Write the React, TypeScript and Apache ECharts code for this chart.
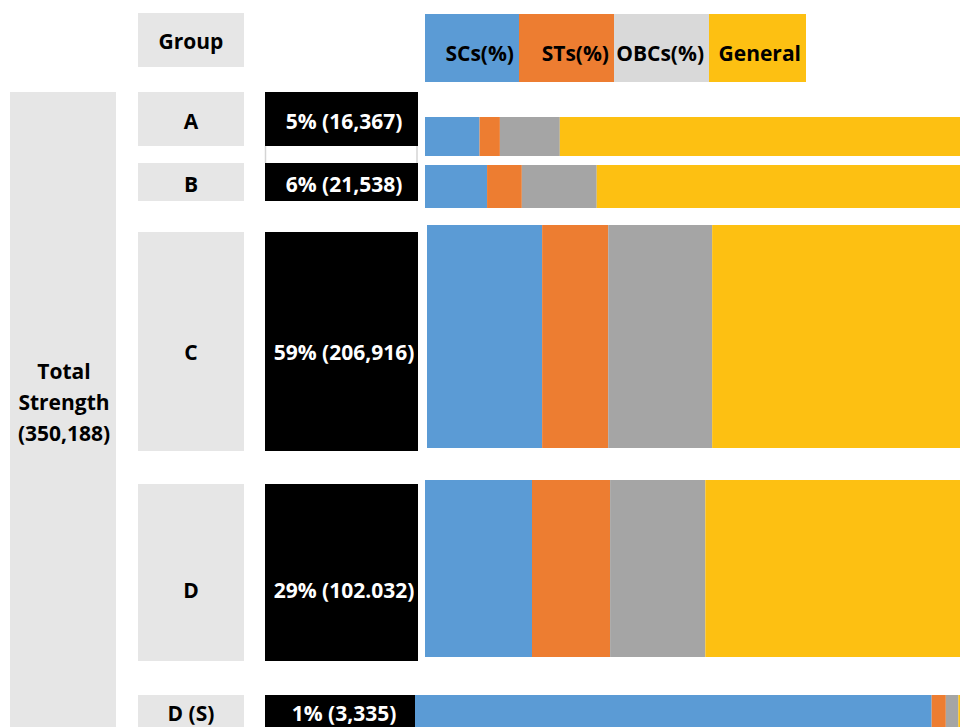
import React, { useEffect, useRef } from "react";
import * as echarts from "echarts";

const categories = ["A", "B", "C", "D", "D (S)"];
const shares = ["5%", "6%", "59%", "29%", "1%"];
const counts = ["16,367", "21,538", "206,916", "102.032", "3,335"];
const seriesNames = ["SCs(%)", "STs(%)", "OBCs(%)", "General"];
const scs = [10.2, 11.6, 21.6, 20.0, 94.8];
const sts = [3.8, 6.5, 12.4, 14.6, 2.6];
const obcs = [11.2, 14.0, 19.5, 17.8, 2.3];
const general = [74.8, 67.9, 46.5, 47.6, 0.3];
const headerLabel = "Group";
const totalLabel = ["Total", "Strength", "(350,188)"];

const seriesValues = [scs, sts, obcs, general];
const barColors = ["#5b9bd5", "#ed7d31", "#a5a5a5", "#fdc012"];
const legendColors = ["#5b9bd5", "#ed7d31", "#d9d9d9", "#fdc012"];

// layout of each row (pixels)
const rows = [
  { top: 92, h: 54, textY: 121, barTop: 117, barH: 39, barLeft: 425 },
  { top: 163, h: 38, textY: 184, barTop: 165, barH: 43, barLeft: 425 },
  { top: 232, h: 219, textY: 352, barTop: 225, barH: 223, barLeft: 427 },
  { top: 484, h: 177, textY: 590, barTop: 480, barH: 177, barLeft: 425 },
  { top: 695, h: 40, textY: 713, barTop: 695, barH: 32, barLeft: 415 },
];

const FONT = '"Open Sans", "Noto Sans", sans-serif';

export default function App() {
  const ref = useRef<HTMLDivElement>(null);
  useEffect(() => {
    if (!ref.current) return;
    const chart = echarts.init(ref.current, null, { renderer: "svg" });

    const txt = (text: string, x: number, y: number, fill: string, align = "center") => ({
      type: "text",
      x,
      y,
      z: 10,
      style: {
        text,
        fill,
        fontSize: 21,
        fontWeight: "bold",
        fontFamily: FONT,
        align,
        verticalAlign: "middle",
      },
    });

    const graphics: any[] = [];
    // header
    graphics.push({ type: "rect", shape: { x: 138, y: 13, width: 106, height: 54 }, style: { fill: "#e6e6e6" } });
    graphics.push(txt(headerLabel, 191, 41, "#000"));
    // legend
    const legX = [425, 519, 614, 709, 806];
    seriesNames.forEach((n, k) => {
      graphics.push({
        type: "rect",
        shape: { x: legX[k], y: 14, width: legX[k + 1] - legX[k], height: 68 },
        style: { fill: legendColors[k] },
      });
      graphics.push(txt(n, legX[k + 1] - 5, 53, "#000", "right"));
    });
    // total strength
    graphics.push({ type: "rect", shape: { x: 10, y: 92, width: 106, height: 660 }, style: { fill: "#e6e6e6" } });
    graphics.push({
      type: "text",
      x: 64,
      y: 402,
      z: 10,
      style: {
        text: totalLabel.join("\n"),
        fill: "#000",
        fontSize: 21,
        fontWeight: "bold",
        fontFamily: FONT,
        align: "center",
        verticalAlign: "middle",
        lineHeight: 31,
      },
    });
    // rows
    rows.forEach((r, i) => {
      graphics.push({ type: "rect", shape: { x: 138, y: r.top, width: 106, height: r.h }, style: { fill: "#e6e6e6" } });
      graphics.push(txt(categories[i], 191, r.textY, "#000"));
      graphics.push({ type: "rect", shape: { x: 265, y: r.top, width: 153, height: r.h }, style: { fill: "#000" } });
      graphics.push(txt(`${shares[i]} (${counts[i]})`, 344, r.textY, "#fff"));
    });
    // thin separator lines between A and B boxes
    graphics.push({ type: "line", shape: { x1: 265.5, y1: 146, x2: 265.5, y2: 163 }, style: { stroke: "#d4d4d4", lineWidth: 1.5 } });
    graphics.push({ type: "line", shape: { x1: 417, y1: 146, x2: 417, y2: 163 }, style: { stroke: "#d4d4d4", lineWidth: 1.5 } });

    const grid = rows.map((r) => ({ left: r.barLeft, right: 0, top: r.barTop, height: r.barH }));
    const xAxis = rows.map((_, i) => ({ gridIndex: i, type: "value", min: 0, max: 100, show: false }));
    const yAxis = rows.map((_, i) => ({ gridIndex: i, type: "category", data: [categories[i]], show: false }));
    const series: any[] = [];
    seriesNames.forEach((n, k) => {
      rows.forEach((_, i) => {
        series.push({
          name: n,
          type: "bar",
          stack: "row" + i,
          xAxisIndex: i,
          yAxisIndex: i,
          barWidth: "100%",
          silent: true,
          itemStyle: { color: barColors[k] },
          data: [seriesValues[k][i]],
        });
      });
    });

    chart.setOption({
      animation: false,
      backgroundColor: "#fff",
      grid,
      xAxis,
      yAxis,
      series,
      graphic: { elements: graphics },
    });
    return () => chart.dispose();
  }, []);
  return <div ref={ref} style={{ position: "absolute", left: 0, top: 0, width: 960, height: 727 }} />;
}
